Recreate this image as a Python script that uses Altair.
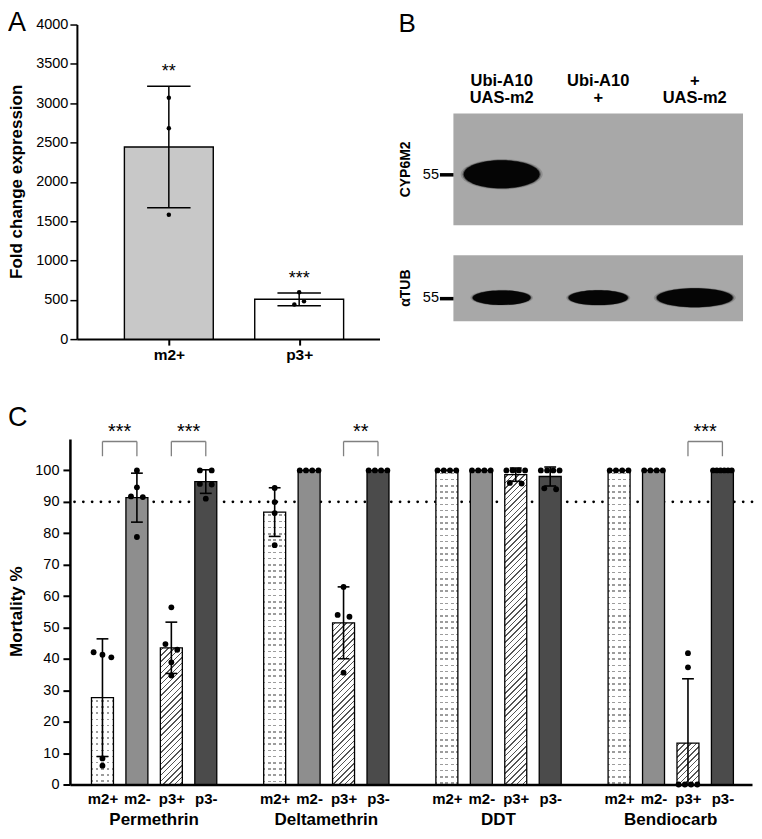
import json
import altair as alt
import numpy as np
import pandas as pd

FONT = "Liberation Sans"

# ---------------- data ----------------
# Panel A : fold change expression (three replicates per line)
fold_groups = ["m2+", "p3+"]
fold_m2_plus = [3070, 2680, 1580]
fold_p3_plus = [597, 482, 440]
fold_sig = ["**", "***"]

# Panel B : western blot (relative band signal per lane)
lanes = ["Ubi-A10|UAS-m2", "Ubi-A10|+", "+|UAS-m2"]
proteins = ["CYP6M2", "αTUB"]
marker_label = "55"
signal_cyp6m2 = [1.0, 0.0, 0.0]
signal_atub = [0.75, 0.77, 1.0]

# Panel C : mortality % per replicate
insecticides = ["Permethrin", "Deltamethrin", "DDT", "Bendiocarb"]
strains = ["m2+", "m2-", "p3+", "p3-"]
permethrin = [
    [42.1, 40.5, 41.3, 8.3, 6.0],
    [100, 94.6, 91.7, 91.5, 78.8],
    [56.4, 44.7, 42.9, 38.9, 34.7],
    [100, 100, 95.7, 95.5, 91.0],
]
deltamethrin = [
    [94.4, 89.9, 86.4, 76.2],
    [100, 100, 100, 100],
    [62.9, 54.0, 53.4, 35.6],
    [100, 100, 100, 100],
]
ddt = [
    [100, 100, 100, 100],
    [100, 100, 100, 100],
    [100, 100, 100, 100, 96.0, 95.8],
    [100, 100, 100, 100, 94.3, 94.0],
]
bendiocarb = [
    [100, 100, 100, 100],
    [100, 100, 100, 100],
    [0, 0, 0, 0, 41.8, 37.3],
    [100, 100, 100, 100, 100, 100],
]
comparisons = [
    ("Permethrin", "m2+", "m2-", "***"),
    ("Permethrin", "p3+", "p3-", "***"),
    ("Deltamethrin", "p3+", "p3-", "**"),
    ("Bendiocarb", "p3+", "p3-", "***"),
]
threshold = 90

# ---------------- layout / style ----------------
A_W, A_H = 303, 315
B_W, B_H = 290, 315
C_W, C_H = 683, 346
C_PX = 35.0
C_DOMAIN = [-0.8, -0.8 + C_W / C_PX]
A_DOMAIN = [-0.667, 1.578]
A_PX = A_W / (A_DOMAIN[1] - A_DOMAIN[0])
SLOTS_PER_GROUP = 5
BAR_W = 22

fill_A = {"m2+": "#c8c8c8", "p3+": "#ffffff"}
fill_C = {"m2-": "#8e8e8e", "p3-": "#4b4b4b"}
MEMBRANE = "#a8a8a8"


def js_list(lst):
    return json.dumps(lst, ensure_ascii=False).replace('"', "'")


def spread(values, tol, offsets):
    order = sorted(range(len(values)), key=lambda i: -values[i])
    clusters = []
    for i in order:
        if clusters and abs(values[clusters[-1][-1]] - values[i]) < tol:
            clusters[-1].append(i)
        else:
            clusters.append([i])
    dx = [0.0] * len(values)
    for cl in clusters:
        offs = offsets(len(cl))
        for k, i in enumerate(cl):
            dx[i] = offs[k]
    return dx


def offs_c(n):
    if n == 1:
        return [0.0]
    if n == 2:
        return [-6.0, 6.0]
    if n == 3:
        return [-9.0, 0.0, 9.0]
    return list(np.linspace(-9.5, 9.5, n))


def offs_a(n):
    if n == 1:
        return [0.0]
    return list(np.linspace(5, -5, n))


def stripe_stops(extent, period, thick, on, off):
    half = thick / 2 / extent
    stops = [{"offset": 0, "color": off}]
    n = 0
    while True:
        t = (n * period + period / 2) / extent
        if t - half >= 1:
            break
        a = round(max(t - half, 0), 5)
        b = round(min(t + half, 1), 5)
        stops += [{"offset": a, "color": off}, {"offset": a, "color": on},
                  {"offset": b, "color": on}, {"offset": b, "color": off}]
        n += 1
    stops.append({"offset": 1, "color": off})
    return stops


def hatch(w, h, period=5.7, thick=1.5, line="#555555", bg="#ffffff"):
    k = (w + h) / (w * w + h * h)
    return {"gradient": "linear", "x1": 0, "y1": 0,
            "x2": round(w * k, 6), "y2": round(h * k, 6),
            "stops": stripe_stops(w + h, period, thick, line, bg)}


def rows(h, period=6.2, thick=1.6, line="#9c9c9c", bg="#ffffff"):
    return {"gradient": "linear", "x1": 0, "y1": 0, "x2": 0, "y2": 1,
            "stops": stripe_stops(h, period, thick, line, bg)}


def columns(w, period=5.5, thick=2.6, mask="#ffffff", clear="rgba(255,255,255,0)"):
    return {"gradient": "linear", "x1": 0, "y1": 0, "x2": 1, "y2": 0,
            "stops": stripe_stops(w, period, thick, mask, clear)}


def label(text, x, y, size, **kw):
    return alt.Chart(pd.DataFrame({"t": [text]})).mark_text(
        fontSize=size, color="black", **kw).encode(
        x=alt.value(x), y=alt.value(y), text="t:N")


# ======================= Panel A =======================
rowsA = []
for gi, (g, vals) in enumerate(zip(fold_groups, [fold_m2_plus, fold_p3_plus])):
    dx = spread(vals, 60, offs_a)
    for v, d in zip(vals, dx):
        rowsA.append({"group": g, "gi": gi, "value": v, "xp": gi + d / A_PX,
                      "sig": fold_sig[gi]})
dfA = pd.DataFrame(rowsA)

xA_scale = alt.Scale(domain=A_DOMAIN, nice=False, zero=False)
yA_scale = alt.Scale(domain=[0, 4000], nice=False)
xA_axis = alt.Axis(values=[0, 1], labelExpr=js_list(fold_groups) + "[datum.value]",
                   title=None, grid=False, tickSize=6, tickWidth=2, domainWidth=2,
                   labelFontSize=15.5, labelFontWeight="bold", labelPadding=2,
                   labelFlush=False)
yA_axis = alt.Axis(values=list(range(0, 4001, 500)), format="d", title=None,
                   labelFontSize=14.5, tickSize=7, tickWidth=1.5, domainWidth=2,
                   labelPadding=2, grid=False)


def XA(f):
    return alt.X(f, type="quantitative", scale=xA_scale, axis=xA_axis)


def YA(f):
    return alt.Y(f, type="quantitative", scale=yA_scale, axis=yA_axis)


baseA = alt.Chart(dfA)
aggA = baseA.transform_aggregate(
    mean="mean(value)", sd="stdev(value)", groupby=["group", "gi", "sig"]
).transform_calculate(hi="datum.mean + datum.sd", lo="datum.mean - datum.sd",
                      xl="datum.gi - %f" % (22.5 / A_PX), xr="datum.gi + %f" % (22.5 / A_PX))

barsA = [
    aggA.transform_filter("datum.group == '%s'" % g).mark_bar(
        size=89, fill=c, stroke="black", strokeWidth=1.4).encode(x=XA("gi"), y=YA("mean"))
    for g, c in fill_A.items()
]
errA = aggA.mark_rule(color="black", strokeWidth=1.5).encode(x=XA("gi"), y=YA("lo"), y2="hi:Q")
capHiA = aggA.mark_rule(color="black", strokeWidth=1.5).encode(x=XA("xl"), x2="xr:Q", y=YA("hi"))
capLoA = aggA.mark_rule(color="black", strokeWidth=1.5).encode(x=XA("xl"), x2="xr:Q", y=YA("lo"))
ptsA = baseA.mark_circle(size=20, color="black", opacity=1).encode(x=XA("xp"), y=YA("value"))
starsA = aggA.mark_text(fontSize=18, baseline="alphabetic", dy=-9, color="black").encode(
    x=XA("gi"), y=YA("hi"), text="sig:N")
titleA = label("Fold change expression", -60, A_H / 2, 17, angle=270,
               fontWeight="bold", baseline="middle", align="center")
letterA = label("A", -69, 6, 27, align="left", baseline="alphabetic")

panelA = alt.layer(*barsA, errA, capHiA, capLoA, ptsA, starsA, titleA, letterA).properties(
    width=A_W, height=A_H)

# ======================= Panel B =======================
membranes = pd.DataFrame({
    "protein": proteins,
    "top": [89, 231],
    "bottom": [201, 297],
    "marker": [150, 273.5],
    "aspect": [0.37, 0.25],
})
rowsB = []
for p, sig in zip(proteins, [signal_cyp6m2, signal_atub]):
    m = membranes[membranes.protein == p].iloc[0]
    for lane, s in zip(lanes, sig):
        if s > 0:
            rowsB.append({"lane": lane, "protein": p, "signal": s, "y": m["marker"]})
dfB = pd.DataFrame(rowsB)

xB_scale = alt.Scale(domain=lanes, paddingInner=0, paddingOuter=0.045)
yB_scale = alt.Scale(domain=[0, B_H], reverse=True, nice=False, zero=False)
yB_axis = alt.Axis(values=list(membranes["marker"]), labelExpr="'%s'" % marker_label,
                   title=None, grid=False, domain=False, tickSize=14, tickWidth=3.5,
                   labelFontSize=14.5, labelPadding=1)


def YB(f):
    return alt.Y(f, type="quantitative", scale=yB_scale, axis=yB_axis)


ellipse = lambda r: "M -1 0 A 1 %s 0 1 1 1 0 A 1 %s 0 1 1 -1 0 Z" % (r, r)
shape_scale = alt.Scale(domain=proteins, range=[ellipse(a) for a in membranes["aspect"]])

memB = alt.Chart(membranes).mark_rect(fill=MEMBRANE).encode(
    x=alt.value(0), x2=alt.value(B_W), y=YB("top"), y2="bottom:Q")
bandBase = alt.Chart(dfB).transform_calculate(
    w="58 + 72 * (datum.signal - 0.75)")


def band_layer(scale_f, color, opacity):
    return bandBase.transform_calculate(sz="pow(datum.w * %f, 2)" % scale_f).mark_point(
        filled=True, color=color, opacity=opacity, strokeWidth=0).encode(
        x=alt.X("lane:N", scale=xB_scale, axis=None), y=YB("y"),
        shape=alt.Shape("protein:N", scale=shape_scale, legend=None),
        size=alt.Size("sz:Q", scale=None, legend=None))


haloB = band_layer(1.08, "#333333", 0.22)
midB = band_layer(1.03, "#1a1a1a", 0.5)
coreB = band_layer(1.0, "#050505", 1)
laneLab = alt.Chart(pd.DataFrame({"lane": lanes})).mark_text(
    lineBreak="|", lineHeight=17, fontSize=16.5, fontWeight="bold",
    baseline="alphabetic", color="black").encode(
    x=alt.X("lane:N", scale=xB_scale, axis=None), y=alt.value(62), text="lane:N")
protLab = alt.Chart(membranes).transform_calculate(
    mid="(datum.top + datum.bottom) / 2").mark_text(
    angle=270, fontSize=14, fontWeight="bold", baseline="middle", color="black").encode(
    x=alt.value(-47), y=YB("mid"), text="protein:N")
letterB = label("B", -55, 7, 26, align="left", baseline="alphabetic")

panelB = alt.layer(memB, haloB, midB, coreB, laneLab, protLab, letterB).properties(
    width=B_W, height=B_H)

# ======================= Panel C =======================
rowsC = []
for g, (ins, reps) in enumerate(zip(insecticides, [permethrin, deltamethrin, ddt, bendiocarb])):
    for s, (st, vals) in enumerate(zip(strains, reps)):
        slot = g * SLOTS_PER_GROUP + s
        dx = spread(vals, 2.2, offs_c)
        for v, d in zip(vals, dx):
            rowsC.append({"insecticide": ins, "strain": st, "slot": slot,
                          "value": v, "xp": slot + d / C_PX})
dfC = pd.DataFrame(rowsC)

slots = [g * SLOTS_PER_GROUP + s for g in range(len(insecticides)) for s in range(len(strains))]
xC_scale = alt.Scale(domain=C_DOMAIN, nice=False, zero=False)
yC_scale = alt.Scale(domain=[0, 110], nice=False)
xC_axis = alt.Axis(values=slots, labelExpr=js_list(strains) + "[datum.value % 5]",
                   title=None, grid=False, ticks=False, domainWidth=2.5,
                   labelFontSize=15, labelFontWeight="bold", labelPadding=7, labelFlush=False)
yC_axis = alt.Axis(values=list(range(0, 101, 10)), title=None, labelOverlap=False,
                   labelFontSize=14.5, tickSize=7, tickWidth=2, domainWidth=2.5,
                   labelPadding=4, grid=False)


def XC(f):
    return alt.X(f, type="quantitative", scale=xC_scale, axis=xC_axis)


def YC(f):
    return alt.Y(f, type="quantitative", scale=yC_scale, axis=yC_axis)


def YCd(v):
    return alt.YDatum(v, type="quantitative", scale=yC_scale, axis=yC_axis)


baseC = alt.Chart(dfC)
aggC = baseC.transform_aggregate(
    mean="mean(value)", sd="stdev(value)", groupby=["insecticide", "strain", "slot"]
).transform_calculate(
    hi="datum.mean + datum.sd", lo="max(0, datum.mean - datum.sd)",
    xl="datum.slot - %f" % (6 / C_PX), xr="datum.slot + %f" % (6 / C_PX))

dotted = alt.Chart(pd.DataFrame({"v": [threshold]})).mark_rule(
    color="black", strokeWidth=2.8, strokeDash=[0.01, 8.8], strokeCap="round").encode(
    y=YC("v"))

barsC = [
    aggC.transform_filter("datum.strain == '%s'" % st).mark_bar(
        size=BAR_W, fill=c, stroke="black", strokeWidth=1.3).encode(x=XC("slot"), y=YC("mean"))
    for st, c in fill_C.items()
]
patternLayers = []
for g, (ins, reps) in enumerate(zip(insecticides, [permethrin, deltamethrin, ddt, bendiocarb])):
    sel = "datum.insecticide == '%s'" % ins
    # m2+ : dotted texture (rows of dashes)
    h_m2 = max(float(np.mean(reps[0])) * C_H / 110.0, 1)
    sub = aggC.transform_filter(sel + " && datum.strain == 'm2+'")
    patternLayers.append(sub.mark_bar(size=BAR_W, fill=rows(h_m2), strokeWidth=0).encode(
        x=XC("slot"), y=YC("mean")))
    patternLayers.append(sub.mark_bar(size=BAR_W, fill=columns(BAR_W), stroke="black",
                                      strokeWidth=1.3).encode(x=XC("slot"), y=YC("mean")))
    # p3+ : diagonal hatching
    h_p3 = max(float(np.mean(reps[2])) * C_H / 110.0, 1)
    patternLayers.append(
        aggC.transform_filter(sel + " && datum.strain == 'p3+'").mark_bar(
            size=BAR_W, fill=hatch(BAR_W, h_p3), stroke="black", strokeWidth=1.3).encode(
            x=XC("slot"), y=YC("mean")))

errC = aggC.mark_rule(color="black", strokeWidth=1.6).encode(x=XC("slot"), y=YC("lo"), y2="hi:Q")
capHiC = aggC.mark_rule(color="black", strokeWidth=1.6).encode(x=XC("xl"), x2="xr:Q", y=YC("hi"))
capLoC = aggC.transform_filter("datum.sd > 0 && datum.mean - datum.sd > 0").mark_rule(
    color="black", strokeWidth=1.6).encode(x=XC("xl"), x2="xr:Q", y=YC("lo"))
ptsC = baseC.mark_circle(size=34, color="black", opacity=1).encode(x=XC("xp"), y=YC("value"))

slot_of = lambda ins, st: insecticides.index(ins) * SLOTS_PER_GROUP + strains.index(st)
dfBr = pd.DataFrame([{"x1": slot_of(i, a), "x2": slot_of(i, b), "label": lab}
                     for i, a, b, lab in comparisons])
BR_TOP, BR_LEG = 109.2, 104.5
brTop = alt.Chart(dfBr).mark_rule(color="#808080", strokeWidth=1.3).encode(
    x=XC("x1"), x2="x2:Q", y=YCd(BR_TOP))
brL = alt.Chart(dfBr).mark_rule(color="#808080", strokeWidth=1.3).encode(
    x=XC("x1"), y=YCd(BR_LEG), y2=alt.datum(BR_TOP))
brR = alt.Chart(dfBr).mark_rule(color="#808080", strokeWidth=1.3).encode(
    x=XC("x2"), y=YCd(BR_LEG), y2=alt.datum(BR_TOP))
brStars = alt.Chart(dfBr).transform_calculate(xm="(datum.x1 + datum.x2) / 2").mark_text(
    fontSize=20, baseline="alphabetic", dy=-3.4, color="black").encode(
    x=XC("xm"), y=YCd(BR_TOP), text="label:N")

groupLab = alt.Chart(pd.DataFrame({
    "insecticide": insecticides,
    "center": [g * SLOTS_PER_GROUP + (len(strains) - 1) / 2 for g in range(len(insecticides))]
})).mark_text(fontSize=17, fontWeight="bold", baseline="middle", color="black").encode(
    x=XC("center"), y=alt.value(C_H + 36), text="insecticide:N")
titleC = label("Mortality %", -53, C_H / 2, 17, angle=270,
               fontWeight="bold", baseline="middle", align="center")
letterC = label("C", -62, -13, 27, align="left", baseline="alphabetic")

panelC = alt.layer(dotted, *barsC, *patternLayers, errC, capHiC, capLoC, ptsC,
                   brTop, brL, brR, brStars, groupLab, titleC, letterC).properties(
    width=C_W, height=C_H)

# ======================= assemble =======================
spacer = alt.Chart(pd.DataFrame({"a": [0]})).mark_point(opacity=0).encode(
    x=alt.value(0), y=alt.value(0)).properties(width=1, height=A_H)

inner = alt.hconcat(panelA, panelB, spacing=74, bounds="flush")
top = alt.hconcat(spacer, inner, spacing=6, bounds="flush")
chart = alt.vconcat(top, panelC, spacing=41).properties(
    padding=0
).configure(font=FONT).configure_view(stroke=None).configure_axis(
    labelFont=FONT, titleFont=FONT, labelColor="black", titleColor="black",
    domainColor="black", tickColor="black", grid=False
).configure_text(font=FONT)

chart.save("out.html", embed_options={"renderer": "svg", "actions": False})
